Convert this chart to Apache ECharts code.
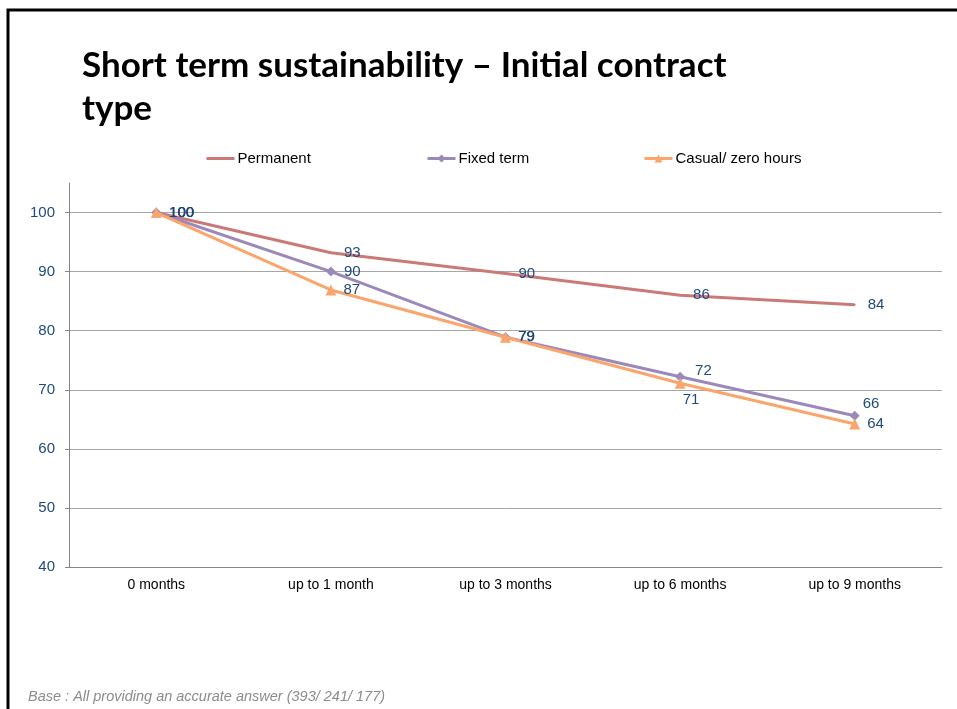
<!DOCTYPE html>
<html>
<head>
<meta charset="utf-8">
<script src="https://cdn.jsdelivr.net/npm/echarts@6/dist/echarts.min.js"></script>
<style>
html,body{margin:0;padding:0;background:#fff;}
#chart{width:957px;height:709px;}
</style>
</head>
<body>
<div id="chart"></div>
<script>
var categories = ['0 months', 'up to 1 month', 'up to 3 months', 'up to 6 months', 'up to 9 months'];
var seriesNames = ['Permanent', 'Fixed term', 'Casual/ zero hours'];
var permanent = [100, 93.2, 89.7, 86.0, 84.4];
var fixedTerm = [100, 90.0, 78.9, 72.2, 65.6];
var casual = [100, 86.9, 78.9, 71.1, 64.2];
var yTicks = [40, 50, 60, 70, 80, 90, 100];

var labelColor = '#1F497D';
var font = '"Liberation Sans", Arial, sans-serif';

function buildData(values, overrides) {
  return values.map(function (v, i) {
    var o = { value: v };
    if (overrides && overrides[i]) o.label = overrides[i];
    return o;
  });
}

var chart = echarts.init(document.getElementById('chart'), null, { renderer: 'canvas' });

var baseLabel = {
  show: true,
  position: 'right',
  color: labelColor,
  fontSize: 15,
  fontFamily: font,
  formatter: function (p) { return Math.round(p.value); }
};

var option = {
  backgroundColor: '#fff',
  animation: false,
  title: [
    {
      text: 'Short term sustainability – Initial contract\ntype',
      left: 82,
      top: 44,
      padding: 0,
      textStyle: {
        fontFamily: 'Lato, "Open Sans", sans-serif',
        fontWeight: 'bold',
        fontSize: 35,
        lineHeight: 43,
        color: '#000'
      }
    },
    {
      text: 'Base : All providing an accurate answer (393/ 241/ 177)',
      left: 28,
      top: 689,
      padding: 0,
      textStyle: {
        fontFamily: font,
        fontStyle: 'italic',
        fontWeight: 'normal',
        fontSize: 14.5,
        color: '#8C8C8C'
      }
    }
  ],
  legend: [
    { data: [{ name: seriesNames[0], itemStyle: { opacity: 0 } }], left: 205, top: 151 },
    { data: [seriesNames[1]], left: 426, top: 151 },
    { data: [seriesNames[2]], left: 643, top: 151 }
  ].map(function (l) {
    l.padding = 0;
    l.itemWidth = 28;
    l.itemHeight = 10;
    l.itemGap = 0;
    l.lineStyle = { width: 3 };
    l.textStyle = { fontFamily: font, fontSize: 15, color: '#000', padding: [0, 0, 0, -2] };
    return l;
  }),
  grid: { left: 69, right: 15, top: 183, bottom: 142, containLabel: false },
  xAxis: {
    type: 'category',
    data: categories,
    boundaryGap: true,
    axisLine: { lineStyle: { color: '#868686', width: 1 } },
    axisTick: { show: false },
    axisLabel: { color: '#000', fontSize: 14, fontFamily: font, margin: 11 }
  },
  yAxis: {
    type: 'value',
    min: yTicks[0],
    max: 105,
    interval: 10,
    axisLine: { show: true, lineStyle: { color: '#868686', width: 1 } },
    axisTick: { show: true, length: 4, lineStyle: { color: '#868686' } },
    axisLabel: { color: labelColor, fontSize: 15, fontFamily: font, margin: 14, showMaxLabel: false },
    splitLine: { show: true, showMaxLine: false, lineStyle: { color: '#A6A6A6', width: 1 } }
  },
  series: [
    {
      name: seriesNames[0],
      type: 'line',
      data: buildData(permanent, null),
      symbol: 'circle',
      symbolSize: 2,
      lineStyle: { color: '#C97A77', width: 3 },
      itemStyle: { color: '#C97A77' },
      label: Object.assign({}, baseLabel, { distance: 12 }),
      z: 2
    },
    {
      name: seriesNames[1],
      type: 'line',
      data: buildData(fixedTerm, {
        3: { position: 'right', distance: 10, offset: [0, -6] },
        4: { position: 'right', distance: 3, offset: [0, -12] }
      }),
      symbol: 'diamond',
      symbolSize: 10,
      lineStyle: { color: '#9B89BA', width: 3 },
      itemStyle: { color: '#9B89BA' },
      label: Object.assign({}, baseLabel, { distance: 8 }),
      z: 3
    },
    {
      name: seriesNames[2],
      type: 'line',
      data: buildData(casual, {
        3: { position: 'bottom', distance: 4, offset: [11, 0] }
      }),
      symbol: 'triangle',
      symbolSize: 11,
      lineStyle: { color: '#F9A56C', width: 3 },
      itemStyle: { color: '#F9A56C' },
      label: Object.assign({}, baseLabel, { distance: 7 }),
      z: 4
    }
  ],
  graphic: [
    {
      type: 'polyline',
      shape: { points: [[8, 709], [8, 10], [957, 10]] },
      style: { stroke: '#000', lineWidth: 3, fill: null },
      silent: true
    }
  ]
};

chart.setOption(option);
</script>
</body>
</html>
